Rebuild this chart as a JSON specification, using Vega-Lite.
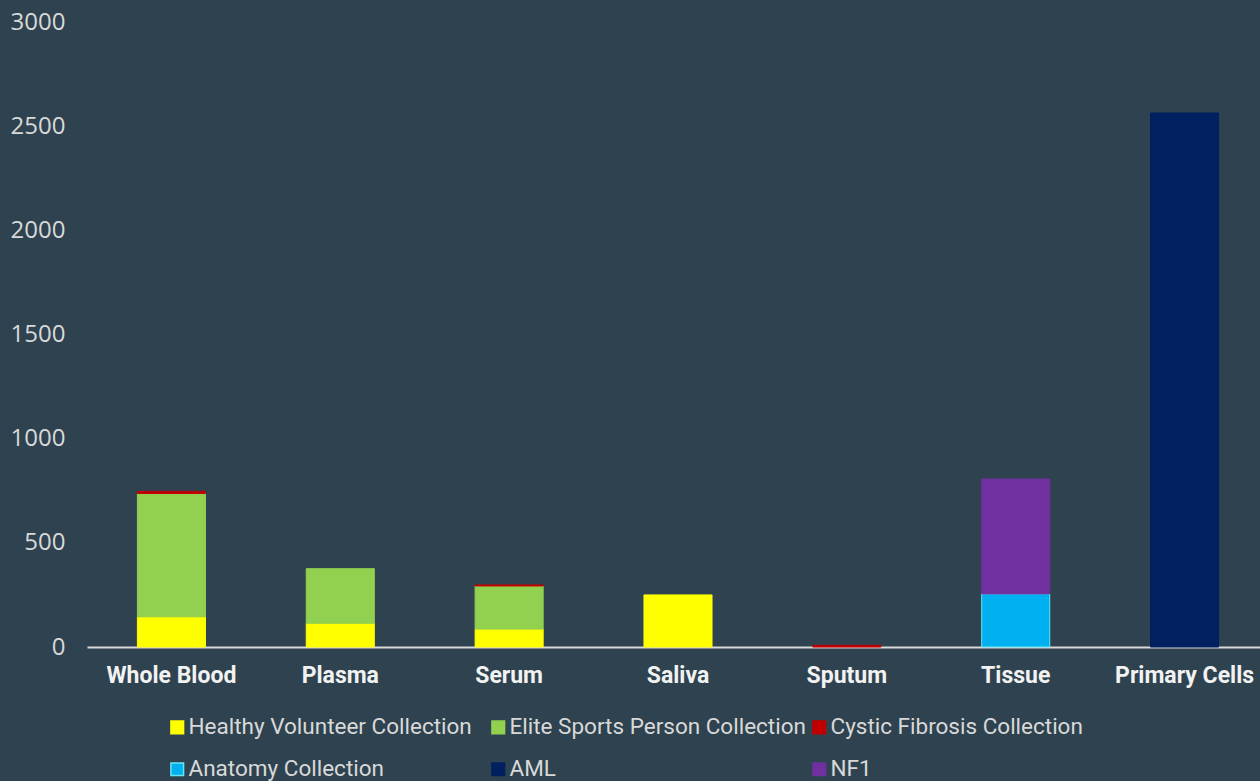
{
  "$schema": "https://vega.github.io/schema/vega-lite/v6.json",
  "width": 1172,
  "height": 625,
  "autosize": "none",
  "padding": {"left": 88, "top": 22, "right": 0, "bottom": 134},
  "background": "#2E434F",
  "config": {"view": {"stroke": null}},
  "data": {
    "values": [
      {"cat": "Whole Blood", "series": "Healthy Volunteer Collection", "ord": 1, "value": 145},
      {"cat": "Whole Blood", "series": "Elite Sports Person Collection", "ord": 2, "value": 592},
      {"cat": "Whole Blood", "series": "Cystic Fibrosis Collection", "ord": 3, "value": 10},
      {"cat": "Plasma", "series": "Healthy Volunteer Collection", "ord": 1, "value": 114},
      {"cat": "Plasma", "series": "Elite Sports Person Collection", "ord": 2, "value": 262},
      {"cat": "Serum", "series": "Healthy Volunteer Collection", "ord": 1, "value": 86},
      {"cat": "Serum", "series": "Elite Sports Person Collection", "ord": 2, "value": 207},
      {"cat": "Serum", "series": "Cystic Fibrosis Collection", "ord": 3, "value": 5},
      {"cat": "Saliva", "series": "Healthy Volunteer Collection", "ord": 1, "value": 250},
      {"cat": "Sputum", "series": "Cystic Fibrosis Collection", "ord": 3, "value": 8},
      {"cat": "Tissue", "series": "Anatomy Collection", "ord": 4, "value": 255},
      {"cat": "Tissue", "series": "NF1", "ord": 6, "value": 551},
      {"cat": "Primary Cells", "series": "AML", "ord": 5, "value": 2563}
    ]
  },
  "mark": {"type": "bar", "strokeWidth": 1},
  "encoding": {
    "x": {
      "field": "cat",
      "type": "nominal",
      "sort": ["Whole Blood", "Plasma", "Serum", "Saliva", "Sputum", "Tissue", "Primary Cells"],
      "scale": {"range": [-1, 1181], "paddingInner": 0.597, "paddingOuter": 0.2985},
      "axis": {
        "title": null,
        "labelAngle": 0,
        "ticks": false,
        "domainColor": "#D9D9D9",
        "domainWidth": 2,
        "labelColor": "#F2F2F2",
        "labelFont": "Roboto",
        "labelFontWeight": "bold",
        "labelFontSize": 23,
        "labelPadding": 17
      }
    },
    "y": {
      "field": "value",
      "type": "quantitative",
      "stack": "zero",
      "scale": {"domain": [0, 3000], "nice": false},
      "axis": {
        "title": null,
        "values": [0, 500, 1000, 1500, 2000, 2500, 3000],
        "format": "d",
        "grid": false,
        "domain": false,
        "ticks": false,
        "labelColor": "#D9D9D9",
        "labelFont": "Open Sans",
        "labelFontSize": 24,
        "labelPadding": 23
      }
    },
    "order": {"field": "ord", "type": "quantitative"},
    "color": {
      "field": "series",
      "type": "nominal",
      "scale": {
        "domain": ["Healthy Volunteer Collection", "Elite Sports Person Collection", "Cystic Fibrosis Collection", "Anatomy Collection", "AML", "NF1"],
        "range": ["#FFFF00", "#92D050", "#C00000", "#00B0F0", "#002060", "#7030A0"]
      },
      "legend": {
        "title": null,
        "orient": "none",
        "direction": "horizontal",
        "legendX": 78,
        "legendY": 694,
        "columns": 3,
        "gridAlign": "all",
        "columnPadding": 2,
        "rowPadding": 19,
        "symbolType": "square",
        "symbolSize": 160,
        "symbolOffset": 0,
        "labelOffset": 0,
        "labelColor": "#D9D9D9",
        "labelFont": "Roboto",
        "labelFontSize": 22.5,
        "labelLimit": 400
      }
    },
    "stroke": {
      "field": "series",
      "type": "nominal",
      "scale": {
        "domain": ["Healthy Volunteer Collection", "Elite Sports Person Collection", "Cystic Fibrosis Collection", "Anatomy Collection", "AML", "NF1"],
        "range": ["#FFFF00", "#92D050", "#C00000", "#66E6F5", "#002060", "#7030A0"]
      },
      "legend": null
    }
  }
}
